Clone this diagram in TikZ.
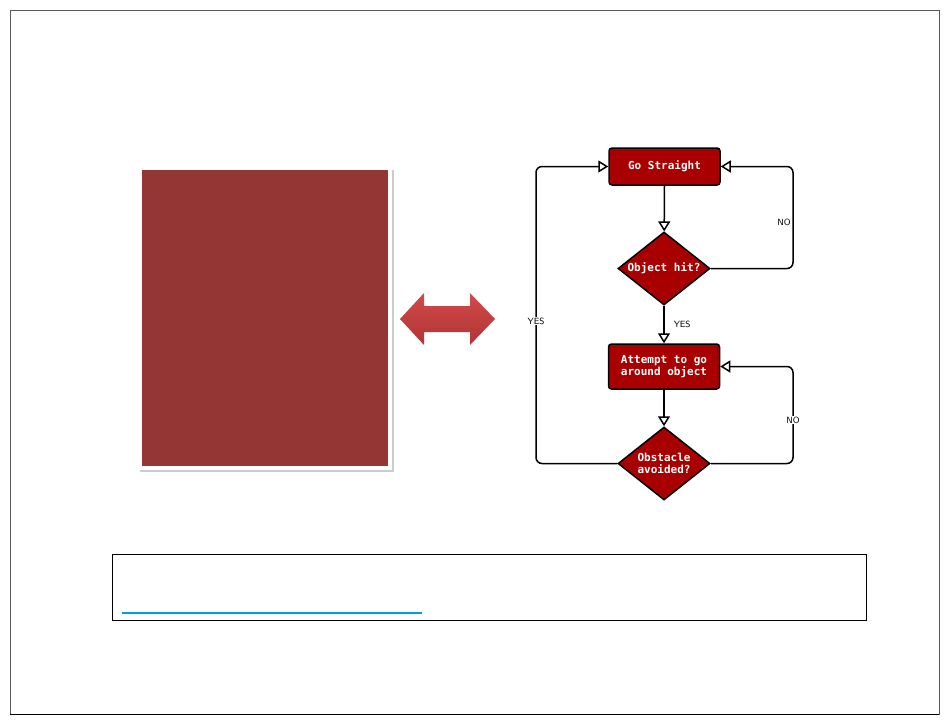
\documentclass[tikz,border=0pt]{standalone}
\usepackage{fontspec}
\setmainfont{DejaVu Sans}
\setmonofont{DejaVu Sans Mono}
\usepackage{tikz}
\usetikzlibrary{arrows.meta}
\usetikzlibrary{shapes.geometric}
\usetikzlibrary{shadows}

\definecolor{boxred}{HTML}{A80000}
\definecolor{panelred}{HTML}{943634}
\definecolor{arrowtop}{HTML}{D24A4A}
\definecolor{arrowbottom}{HTML}{B03434}
\definecolor{linkblue}{HTML}{00A0E0}

\tikzset{
    stepbox/.style = {draw, line width = 1.5pt, fill = boxred, rounded corners = 3pt,
        minimum width = 111pt, minimum height = 37pt, text = white, align = center,
        font = \ttfamily\bfseries\fontsize{11}{12.5}\selectfont},
    decision/.style = {diamond, draw, line width = 1.5pt, fill = boxred, aspect = 1.26,
        minimum width = 92pt, minimum height = 73pt, inner sep = 0pt, text = white,
        align = center, font = \ttfamily\bfseries\fontsize{11}{12.5}\selectfont},
    flow/.style = {line width = 1.5pt, rounded corners = 6pt,
        -{Triangle[open, length = 10pt, width = 12pt]}},
    answer/.style = {font = \sffamily\fontsize{9}{10}\selectfont, inner sep = 1pt}
}

\begin{document}
\begin{tikzpicture} [x = 1pt, y = -1pt]
    \useasboundingbox (0, 0) rectangle (950, 725);
    \draw[gray!70!black] (10, 10) rectangle (939, 714);
    \draw[black, line width = 1pt] (10, 714) -- (939, 714);

    \fill[white, drop shadow = {opacity = 0.4, shadow xshift = 1.5pt, shadow yshift = -2pt}]
        (138, 168) rectangle (392, 470);
    \fill[panelred] (142, 170) rectangle (388, 466);

    \shade[top color = arrowtop, bottom color = arrowbottom]
        (400, 319) -- (424, 293) -- (424, 306) -- (470, 306) -- (470, 293) -- (495, 319)
        -- (470, 345) -- (470, 332) -- (424, 332) -- (424, 345) -- cycle;

    \node[stepbox] (straight) at (664.5, 166.5) {Go Straight};
    \node[decision] (hit) at (664, 268.5) {Object hit?};
    \node[stepbox, minimum height = 45pt] (around) at (664, 366.5) {Attempt to go\\around object};
    \node[decision] (avoided) at (664, 463.5) {Obstacle\\avoided?};

    \coordinate (rightrail) at (793, 0);
    \coordinate (leftrail) at (536, 0);

    \draw[flow] (straight) -- (hit);
    \draw[flow] (hit) -- node[answer, right = 8pt] {YES} (around);
    \draw[flow] (around) -- (avoided);
    \draw[flow] (hit.east) -| (rightrail |- straight.east) -- (straight.east);
    \draw[flow] (avoided.east) -| (rightrail |- around.east) -- (around.east);
    \draw[flow] (avoided.west) -| (leftrail |- straight.west) -- (straight.west);

    \node[answer, fill = white] (noone) at (784, 222) {NO};
    \node[answer, fill = white] (notwo) at (793, 420) {NO};
    \node[answer, fill = white] (yesleft) at (536, 321) {YES};

    \draw[line width = 1pt] (112, 554) rectangle (866, 620);
    \draw[linkblue, line width = 1.5pt] (122, 613) -- (422, 613);
\end{tikzpicture}
\end{document}
